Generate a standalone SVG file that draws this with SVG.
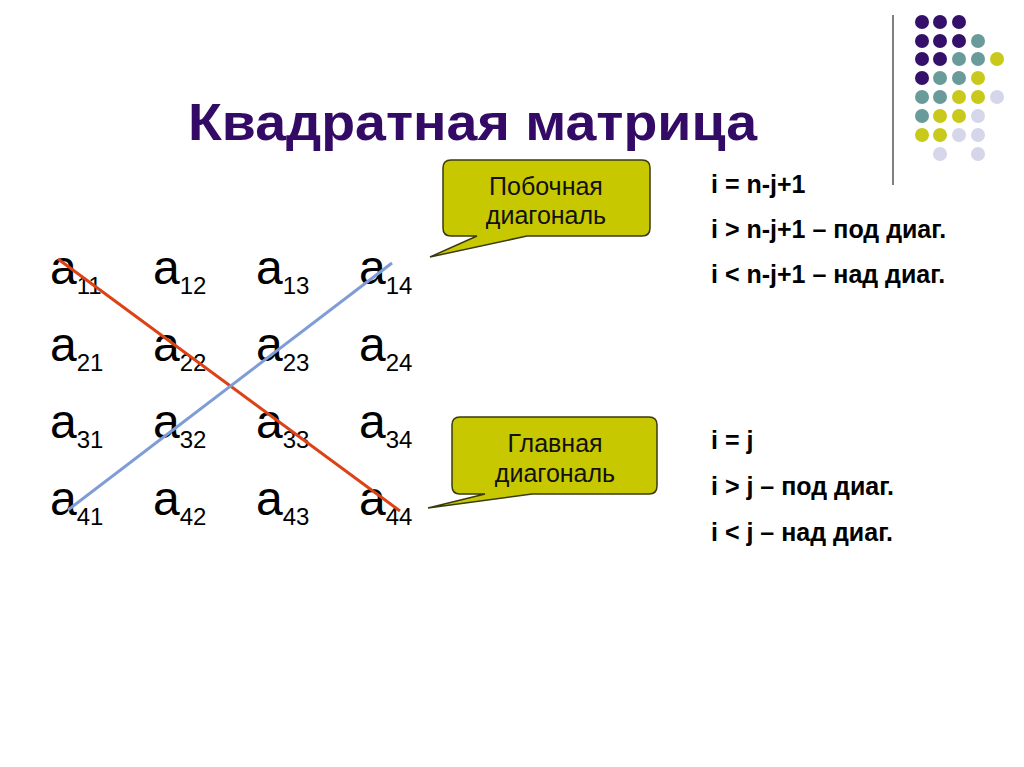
<svg xmlns="http://www.w3.org/2000/svg" width="1024" height="767" viewBox="0 0 1024 767">
<style>
.p{fill:#35106A}.t{fill:#6A9B9B}.y{fill:#C9C91C}.l{fill:#D6D6EA}
.title{font-family:"Liberation Sans",Arial,sans-serif;font-weight:bold;font-size:52px;fill:#330A66}
.m{font-family:"Liberation Sans",Arial,sans-serif;font-size:48px;fill:#000}
.s{font-size:24px}
.call{fill:#C8C800;stroke:#3A3A10;stroke-width:1.5}
.ct{font-family:"Liberation Sans",Arial,sans-serif;font-size:25px;fill:#111;text-anchor:middle}
.r{font-family:"Liberation Sans",Arial,sans-serif;font-weight:bold;font-size:25px;fill:#000}
</style>
<rect width="1024" height="767" fill="#fff"/>
<g id="decor">
<line x1="893" y1="15" x2="893" y2="185" stroke="#555" stroke-width="1.5"/>
<g>
<circle class="p" cx="922" cy="22" r="7"/><circle class="p" cx="940" cy="22" r="7"/><circle class="p" cx="959" cy="22" r="7"/>
<circle class="p" cx="922" cy="41" r="7"/><circle class="p" cx="940" cy="41" r="7"/><circle class="p" cx="959" cy="41" r="7"/><circle class="t" cx="978" cy="41" r="7"/>
<circle class="p" cx="922" cy="59" r="7"/><circle class="p" cx="940" cy="59" r="7"/><circle class="t" cx="959" cy="59" r="7"/><circle class="t" cx="978" cy="59" r="7"/><circle class="y" cx="997" cy="59" r="7"/>
<circle class="p" cx="922" cy="78" r="7"/><circle class="t" cx="940" cy="78" r="7"/><circle class="t" cx="959" cy="78" r="7"/><circle class="y" cx="978" cy="78" r="7"/>
<circle class="t" cx="922" cy="97" r="7"/><circle class="t" cx="940" cy="97" r="7"/><circle class="y" cx="959" cy="97" r="7"/><circle class="y" cx="978" cy="97" r="7"/><circle class="l" cx="997" cy="97" r="7"/>
<circle class="t" cx="922" cy="116" r="7"/><circle class="y" cx="940" cy="116" r="7"/><circle class="y" cx="959" cy="116" r="7"/><circle class="l" cx="978" cy="116" r="7"/>
<circle class="y" cx="922" cy="135" r="7"/><circle class="y" cx="940" cy="135" r="7"/><circle class="l" cx="959" cy="135" r="7"/><circle class="l" cx="978" cy="135" r="7"/>
<circle class="l" cx="940" cy="154" r="7"/><circle class="l" cx="978" cy="154" r="7"/>
</g>
</g>
<g id="title"><text class="title" x="188" y="140" textLength="569" lengthAdjust="spacingAndGlyphs">Квадратная матрица</text></g>
<g id="matrix">
<text class="m" x="50" y="284">a<tspan class="s" dy="10">11</tspan></text>
<text class="m" x="153" y="284">a<tspan class="s" dy="10">12</tspan></text>
<text class="m" x="256" y="284">a<tspan class="s" dy="10">13</tspan></text>
<text class="m" x="359" y="284">a<tspan class="s" dy="10">14</tspan></text>
<text class="m" x="50" y="361">a<tspan class="s" dy="10">21</tspan></text>
<text class="m" x="153" y="361">a<tspan class="s" dy="10">22</tspan></text>
<text class="m" x="256" y="361">a<tspan class="s" dy="10">23</tspan></text>
<text class="m" x="359" y="361">a<tspan class="s" dy="10">24</tspan></text>
<text class="m" x="50" y="438">a<tspan class="s" dy="10">31</tspan></text>
<text class="m" x="153" y="438">a<tspan class="s" dy="10">32</tspan></text>
<text class="m" x="256" y="438">a<tspan class="s" dy="10">33</tspan></text>
<text class="m" x="359" y="438">a<tspan class="s" dy="10">34</tspan></text>
<text class="m" x="50" y="515">a<tspan class="s" dy="10">41</tspan></text>
<text class="m" x="153" y="515">a<tspan class="s" dy="10">42</tspan></text>
<text class="m" x="256" y="515">a<tspan class="s" dy="10">43</tspan></text>
<text class="m" x="359" y="515">a<tspan class="s" dy="10">44</tspan></text>
</g>
<g id="connectors">
<line x1="58" y1="259" x2="400" y2="511" stroke="#DD4216" stroke-width="3"/>
<line x1="68" y1="510" x2="392" y2="263" stroke="#7F9CD6" stroke-width="3"/>
</g>
<g id="callout-secondary">
<path class="call" d="M451,160 H642 Q650,160 650,168 V228 Q650,236 642,236 H527 L430,257 L477,236 H451 Q443,236 443,228 V168 Q443,160 451,160 Z"/>
<text class="ct" x="546" y="195">Побочная</text>
<text class="ct" x="546" y="224">диагональ</text>
</g>
<g id="callout-main">
<path class="call" d="M460,417 H649 Q657,417 657,425 V486 Q657,494 649,494 H532 L428,508 L485,494 H460 Q452,494 452,486 V425 Q452,417 460,417 Z"/>
<text class="ct" x="555" y="452">Главная</text>
<text class="ct" x="555" y="482">диагональ</text>
</g>
<g id="conditions">
<text class="r" x="711" y="193">i = n-j+1</text>
<text class="r" x="711" y="238">i &gt; n-j+1 – под диаг.</text>
<text class="r" x="711" y="283">i &lt; n-j+1 – над диаг.</text>
<text class="r" x="711" y="449">i = j</text>
<text class="r" x="711" y="495">i &gt; j – под диаг.</text>
<text class="r" x="711" y="541">i &lt; j – над диаг.</text>
</g>
</svg>
